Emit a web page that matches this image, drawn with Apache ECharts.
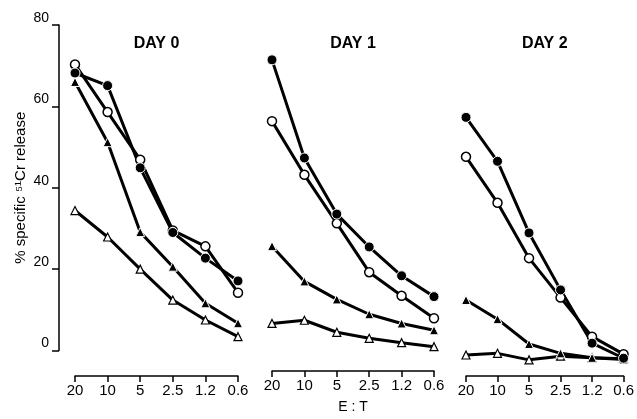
<!DOCTYPE html>
<html>
<head>
<meta charset="utf-8">
<script src="https://cdn.jsdelivr.net/npm/echarts@6/dist/echarts.min.js"></script>
<style>
  html, body { margin: 0; padding: 0; background: #fff; }
  #chart { width: 637px; height: 419px; }
</style>
</head>
<body>
<div id="chart"></div>
<script>
// E:T ratios (same for each day)
const ratios = ["20", "10", "5", "2.5", "1.2", "0.6"];
const days = ["DAY 0", "DAY 1", "DAY 2"];

// % specific 51Cr release
const day0FilledCircle = [68.2, 65.1, 44.9, 29.0, 22.7, 17.1];
const day0OpenCircle = [70.3, 58.6, 46.9, 29.5, 25.6, 14.2];
const day0FilledTriangle = [66.0, 51.2, 29.1, 20.6, 11.6, 6.7];
const day0OpenTriangle = [34.4, 27.9, 20.0, 12.4, 7.5, 3.4];

const day1FilledCircle = [71.3, 46.8, 32.8, 24.6, 17.4, 12.2];
const day1OpenCircle = [56.0, 42.6, 30.5, 18.3, 12.4, 6.8];
const day1FilledTriangle = [24.8, 16.0, 11.5, 7.8, 5.5, 3.8];
const day1OpenTriangle = [5.5, 6.3, 3.3, 1.8, 0.7, -0.3];

const day2FilledCircle = [57.3, 46.5, 28.9, 14.9, 1.8, -1.9];
const day2OpenCircle = [47.6, 36.3, 22.7, 13.0, 3.4, -0.9];
const day2FilledTriangle = [12.4, 7.7, 1.6, -0.7, -1.8, -2.2];
const day2OpenTriangle = [-1.1, -0.7, -2.3, -1.4, -1.8, -2.0];

const panels = [
  [day0FilledCircle, day0OpenCircle, day0FilledTriangle, day0OpenTriangle],
  [day1FilledCircle, day1OpenCircle, day1FilledTriangle, day1OpenTriangle],
  [day2FilledCircle, day2OpenCircle, day2FilledTriangle, day2OpenTriangle]
];

const FONT = "Liberation Sans";
const gridLefts = [75, 272, 466];
const gridWidths = [163, 162, 161];

const markerStyles = [
  { symbol: "circle", size: 10, fill: "#000", border: "#fff", bw: 1 },
  { symbol: "circle", size: 9, fill: "#fff", border: "#000", bw: 1.5 },
  { symbol: "triangle", size: 9, fill: "#000", border: "#fff", bw: 1 },
  { symbol: "triangle", size: 8, fill: "#fff", border: "#000", bw: 1.2 }
];

const chart = echarts.init(document.getElementById("chart"));

const grid = [];
const xAxis = [];
const topAxes = [];
const yAxis = [];
const series = [];

for (let i = 0; i < 3; i++) {
  const first = i === 0;
  grid.push({ left: gridLefts[i], width: gridWidths[i], top: 25, height: 325.5 });

  // bottom axis with the E:T ratios
  xAxis.push({
    type: "category",
    gridIndex: i,
    data: ratios,
    boundaryGap: false,
    position: "bottom",
    offset: 25.5,
    axisLine: { show: true, onZero: false, lineStyle: { color: "#000", width: 1.5 } },
    axisTick: { show: true, length: 6, lineStyle: { color: "#000", width: 1.5 } },
    axisLabel: { color: "#000", fontFamily: FONT, fontSize: 15, margin: 7 },
    splitLine: { show: false },
    name: i === 1 ? "E : T" : "",
    nameLocation: "middle",
    nameGap: 29,
    nameTextStyle: { color: "#000", fontFamily: FONT, fontSize: 14 }
  });

  // top axis only carries the panel title
  topAxes.push({
    type: "category",
    gridIndex: i,
    data: ratios,
    boundaryGap: false,
    position: "top",
    axisLine: { show: false, onZero: false },
    axisTick: { show: false },
    axisLabel: { show: false },
    splitLine: { show: false },
    name: days[i],
    nameLocation: "middle",
    nameGap: -27,
    nameTextStyle: { color: "#000", fontFamily: FONT, fontSize: 16, fontWeight: "bold" }
  });

  yAxis.push({
    type: "value",
    gridIndex: i,
    min: 0,
    max: 80,
    interval: 20,
    offset: 16,
    axisLine: { show: first, onZero: false, lineStyle: { color: "#000", width: 1.5 } },
    axisTick: { show: first, length: 7, lineStyle: { color: "#000", width: 1.5 } },
    axisLabel: {
      show: first, color: "#000", fontFamily: FONT, fontSize: 14, margin: 10,
      verticalAlign: "bottom", lineHeight: 14
    },
    splitLine: { show: false },
    name: first ? "% specific \u2075\u00b9Cr release" : "",
    nameLocation: "middle",
    nameRotate: 90,
    nameGap: 31,
    nameTextStyle: { color: "#000", fontFamily: FONT, fontSize: 15 }
  });

  // triangles first, circles on top
  [3, 2, 1, 0].forEach(k => {
    const m = markerStyles[k];
    series.push({
      type: "line",
      xAxisIndex: i,
      yAxisIndex: i,
      data: panels[i][k],
      clip: false,
      symbol: m.symbol,
      symbolSize: m.size,
      lineStyle: { color: "#000", width: 3 },
      itemStyle: { color: m.fill, borderColor: m.border, borderWidth: m.bw }
    });
  });
}

const option = {
  animation: false,
  backgroundColor: "#fff",
  grid: grid,
  xAxis: xAxis.concat(topAxes),
  yAxis: yAxis,
  series: series
};

chart.setOption(option);
</script>
</body>
</html>
